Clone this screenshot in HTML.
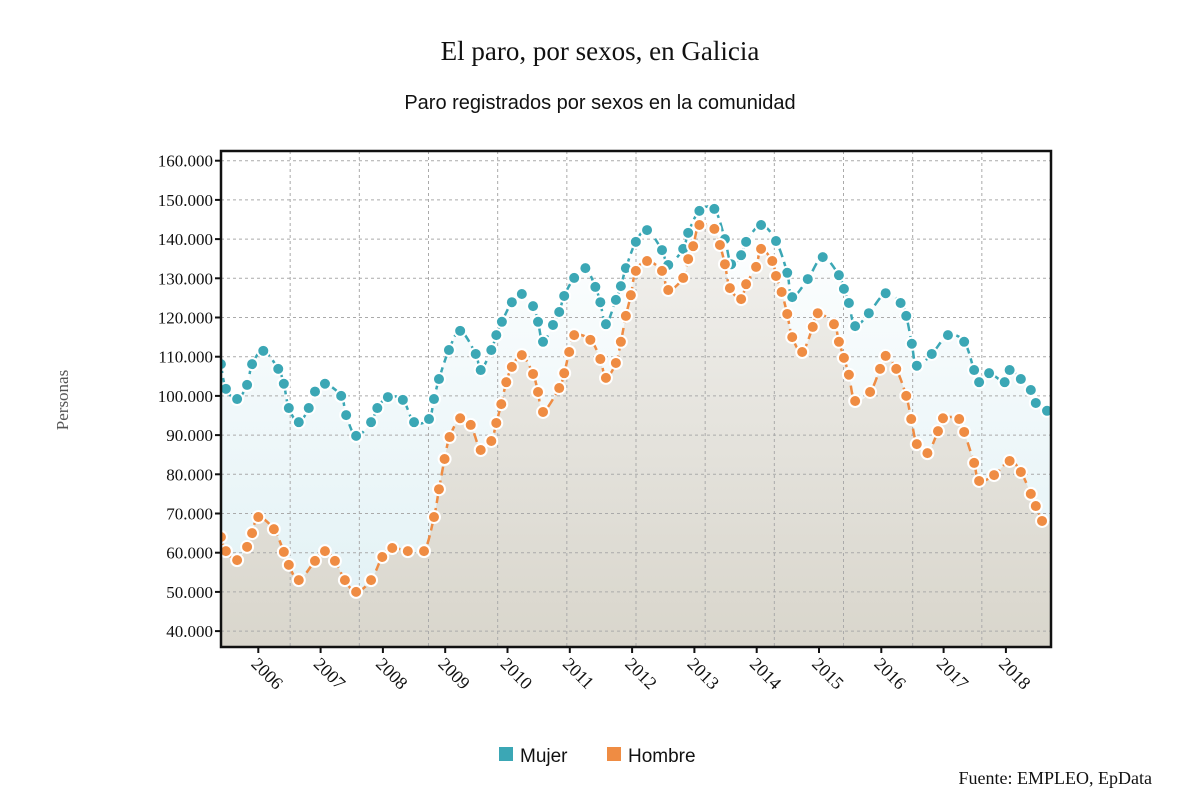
<!DOCTYPE html>
<html><head><meta charset="utf-8">
<style>
body{margin:0;background:#fff;width:1200px;height:808px;overflow:hidden}
svg{display:block}
</style></head>
<body>
<svg id="chart" width="1200" height="808" xmlns="http://www.w3.org/2000/svg">
<defs>
<linearGradient id="gBlue" x1="0" y1="0" x2="0" y2="1">
<stop offset="0" stop-color="#ffffff"/><stop offset="1" stop-color="#dff0f4"/>
</linearGradient>
<linearGradient id="gGrey" x1="0" y1="0" x2="0" y2="1">
<stop offset="0" stop-color="#f2f1ee"/><stop offset="0.6" stop-color="#e2e0d9"/><stop offset="1" stop-color="#d9d6cc"/>
</linearGradient>
<clipPath id="plotClip"><rect x="221" y="151" width="830" height="496"/></clipPath>
</defs>
<text x="600" y="60" text-anchor="middle" font-family="Liberation Serif, serif" font-size="27" fill="#111">El paro, por sexos, en Galicia</text>
<text x="600" y="109" text-anchor="middle" font-family="Liberation Sans, sans-serif" font-size="20" fill="#111">Paro registrados por sexos en la comunidad</text>
<text transform="translate(68,400) rotate(-90)" text-anchor="middle" font-family="Liberation Serif, serif" font-size="17" fill="#555">Personas</text>
<g id="plot" clip-path="url(#plotClip)"></g>
<g id="axes"></g>
<g id="legend">
<g>
<rect x="499" y="747" width="14" height="14" fill="#3ba7b5"/>
<text x="520" y="762" font-family="Liberation Sans, sans-serif" font-size="19" fill="#111">Mujer</text>
</g>
<g>
<rect x="607" y="747" width="14" height="14" fill="#ef8c43"/>
<text x="628" y="762" font-family="Liberation Sans, sans-serif" font-size="19" fill="#111">Hombre</text>
</g>
</g>
<text x="1152" y="784" text-anchor="end" font-family="Liberation Serif, serif" font-size="18" fill="#111">Fuente: EMPLEO, EpData</text>
</svg>
<script>
const mujerDates=[2005.40,2005.48,2005.66,2005.82,2005.90,2006.08,2006.32,2006.41,2006.49,2006.65,2006.81,2006.91,2007.07,2007.33,2007.41,2007.57,2007.81,2007.91,2008.08,2008.32,2008.50,2008.74,2008.82,2008.90,2009.06,2009.24,2009.49,2009.57,2009.74,2009.82,2009.91,2010.07,2010.23,2010.41,2010.49,2010.57,2010.73,2010.83,2010.91,2011.07,2011.25,2011.41,2011.49,2011.58,2011.74,2011.82,2011.90,2012.06,2012.24,2012.48,2012.58,2012.82,2012.90,2013.08,2013.32,2013.49,2013.59,2013.75,2013.83,2014.07,2014.31,2014.49,2014.57,2014.82,2015.06,2015.32,2015.40,2015.48,2015.58,2015.80,2016.07,2016.31,2016.40,2016.49,2016.57,2016.81,2017.07,2017.33,2017.49,2017.57,2017.73,2017.98,2018.06,2018.24,2018.40,2018.48,2018.66];
const mujerValues=[108.1,101.8,99.2,102.8,108.1,111.5,106.9,103.1,96.9,93.3,96.9,101.1,103.1,100.0,95.1,89.8,93.3,96.9,99.7,99.0,93.3,94.1,99.2,104.3,111.7,116.6,110.7,106.6,111.7,115.5,118.9,123.9,126.0,122.9,118.9,113.8,118.1,121.4,125.5,130.1,132.6,127.8,123.9,118.3,124.5,128.0,132.6,139.3,142.3,137.2,133.4,137.5,141.6,147.2,147.7,140.0,133.6,135.9,139.3,143.6,139.5,131.4,125.2,129.8,135.4,130.8,127.3,123.7,117.8,121.1,126.2,123.7,120.4,113.3,107.7,110.7,115.5,113.8,106.6,103.5,105.8,103.5,106.6,104.3,101.5,98.2,96.2];
const hombreDates=[2005.40,2005.48,2005.66,2005.82,2005.90,2006.00,2006.25,2006.41,2006.49,2006.65,2006.91,2007.07,2007.23,2007.39,2007.57,2007.81,2007.99,2008.15,2008.40,2008.66,2008.82,2008.90,2008.99,2009.07,2009.24,2009.41,2009.57,2009.74,2009.82,2009.90,2009.98,2010.07,2010.23,2010.41,2010.49,2010.57,2010.83,2010.91,2010.99,2011.07,2011.33,2011.49,2011.58,2011.74,2011.82,2011.90,2011.98,2012.06,2012.24,2012.48,2012.58,2012.82,2012.90,2012.98,2013.08,2013.32,2013.41,2013.49,2013.57,2013.75,2013.83,2013.99,2014.07,2014.25,2014.31,2014.40,2014.49,2014.57,2014.73,2014.90,2014.98,2015.24,2015.32,2015.40,2015.48,2015.58,2015.82,2015.98,2016.07,2016.24,2016.40,2016.48,2016.57,2016.74,2016.91,2016.99,2017.25,2017.33,2017.49,2017.57,2017.81,2018.06,2018.24,2018.40,2018.48,2018.58];
const hombreValues=[64.0,60.4,58.1,61.5,65.0,69.1,66.0,60.2,56.9,53.0,57.9,60.4,57.9,53.0,50.0,53.0,58.9,61.2,60.4,60.4,69.1,76.2,83.9,89.5,94.3,92.6,86.2,88.5,93.1,97.9,103.5,107.4,110.4,105.6,101.0,95.9,102.0,105.8,111.2,115.5,114.3,109.4,104.6,108.4,113.8,120.4,125.7,131.9,134.4,131.9,127.0,130.1,134.9,138.2,143.6,142.6,138.5,133.6,127.5,124.7,128.5,132.9,137.5,134.4,130.6,126.5,120.9,115.0,111.2,117.6,121.1,118.3,113.8,109.7,105.4,98.7,101.0,106.9,110.2,106.9,100.0,94.1,87.7,85.4,91.0,94.3,94.1,90.8,82.9,78.3,79.8,83.4,80.6,75.0,71.9,68.1];
const yTicks=[40,50,60,70,80,90,100,110,120,130,140,150,160];
const yTickLabels=["40.000","50.000","60.000","70.000","80.000","90.000","100.000","110.000","120.000","130.000","140.000","150.000","160.000"];
const xTickYears=[2006,2007,2008,2009,2010,2011,2012,2013,2014,2015,2016,2017,2018];

const NS="http://www.w3.org/2000/svg";
const L=221,R=1051,T=151,B=647;
function xs(t){return 258.3+(t-2006)*62.3;}
function ys(v){return 160.7+(160-v)*3.92;}
function mk(tag,attrs,parent){const e=document.createElementNS(NS,tag);for(const k in attrs)e.setAttribute(k,attrs[k]);parent.appendChild(e);return e;}
function crPath(pts){let d="M"+pts[0][0]+","+pts[0][1];for(let i=0;i<pts.length-1;i++){const p0=pts[i-1]||pts[i],p1=pts[i],p2=pts[i+1],p3=pts[i+2]||p2;const c1x=p1[0]+(p2[0]-p0[0])/6,c1y=p1[1]+(p2[1]-p0[1])/6,c2x=p2[0]-(p3[0]-p1[0])/6,c2y=p2[1]-(p3[1]-p1[1])/6;d+=" C"+c1x.toFixed(1)+","+c1y.toFixed(1)+" "+c2x.toFixed(1)+","+c2y.toFixed(1)+" "+p2[0].toFixed(1)+","+p2[1].toFixed(1);}return d;}
const plot=document.getElementById('plot'),axes=document.getElementById('axes');
mk('rect',{x:L,y:T,width:R-L,height:B-T,fill:'#fff'},plot);
const mP=mujerDates.map((d,i)=>[xs(d),ys(mujerValues[i])]);
const hP=hombreDates.map((d,i)=>[xs(d),ys(hombreValues[i])]);
const mLine=crPath(mP),hLine=crPath(hP);
const mLast=mP[mP.length-1],hLast=hP[hP.length-1];
const ma=mk('path',{d:mLine+" L"+(R+2)+","+mLast[1]+" L"+(R+2)+","+B+" L"+mP[0][0]+","+B+" Z",fill:'url(#gBlue)'},plot);


const ha=mk('path',{d:hLine+" L"+(R+2)+","+hLast[1]+" L"+(R+2)+","+B+" L"+hP[0][0]+","+B+" Z",fill:'url(#gGrey)'},plot);


yTicks.forEach((v,i)=>{const g=mk('line',{x1:L,x2:R,y1:ys(v),y2:ys(v),stroke:'#aaa','stroke-width':1,'stroke-dasharray':'3,3'},plot);

});
for(let k=1;k<12;k++){const x=L+k*(R-L)/12;const g=mk('line',{x1:x,x2:x,y1:T,y2:B,stroke:'#aaa','stroke-width':1,'stroke-dasharray':'3,3'},plot);

}
function series(pts,color,name){
 const l=mk('path',{d:crPath(pts),fill:'none',stroke:color,'stroke-width':2.5,'stroke-dasharray':'9,5'},plot);
 
 
 pts.forEach(p=>{const c=mk('circle',{cx:p[0],cy:p[1],r:6,fill:color,stroke:'#fff','stroke-width':2},plot);
 
 });
}
series(mP,'#3ba7b5','mujer');
series(hP,'#ef8c43','hombre');
const fr=mk('rect',{x:L,y:T,width:R-L,height:B-T,fill:'none',stroke:'#111','stroke-width':2.5},axes);


yTicks.forEach((v,i)=>{mk('line',{x1:L-6,x2:L,y1:ys(v),y2:ys(v),stroke:'#111','stroke-width':2},axes);
 const t=mk('text',{x:L-8,y:ys(v)+6,'text-anchor':'end','font-family':'Liberation Serif, serif','font-size':17,fill:'#111'},axes);
 t.textContent=yTickLabels[i];
 
 });
xTickYears.forEach(yr=>{const x=xs(yr);mk('line',{x1:x,x2:x,y1:B,y2:B+6,stroke:'#111','stroke-width':2},axes);
 const t=mk('text',{x:0,y:0,transform:'translate('+(x-8)+','+(B+18)+') rotate(45)','font-family':'Liberation Serif, serif','font-size':18,fill:'#111'},axes);
 t.textContent=String(yr);
 
 });
</script>
</body></html>
